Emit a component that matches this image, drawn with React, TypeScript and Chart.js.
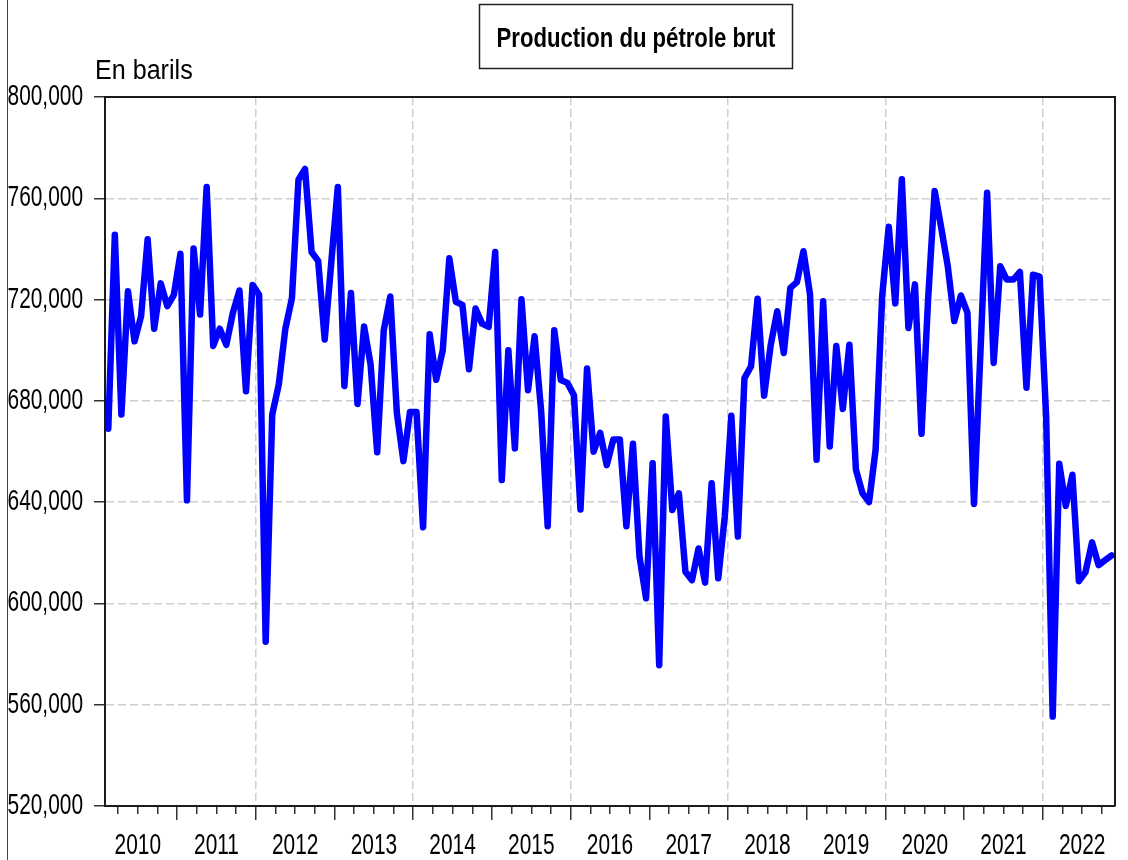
import React, { useEffect, useRef } from 'react';
import { Chart, registerables } from 'chart.js';

Chart.register(...registerables);

const TITLE = 'Production du pétrole brut';
const UNIT = 'En barils';

const firstYear = 2010;
const firstMonth = 2; // February 2010

// Monthly crude oil production (barrels)
const p2010 = [669000, 745600, 674600, 723300, 703500, 713400, 743800, 708500, 726400, 717400, 721900];
const p2011 = [738100, 640700, 740200, 714100, 764500, 701700, 708500, 702100, 714800, 723600, 683800, 725800];
const p2012 = [721900, 584900, 674600, 686500, 708500, 720500, 767300, 771600, 738800, 735300, 704200, 734600];
const p2013 = [764500, 685900, 722600, 678800, 709400, 694300, 659700, 707800, 721200, 675300, 656200, 675600];
const p2014 = [675600, 630100, 706300, 688300, 700000, 736300, 719100, 717900, 692500, 716500, 710500, 709200];
const p2015 = [738800, 648700, 700000, 661200, 720100, 684200, 705500, 676000, 630500, 707900, 688200, 687100];
const p2016 = [682200, 637100, 692800, 659900, 667400, 654600, 664700, 664700, 630500, 663100, 618400, 602000];
const p2017 = [655400, 575600, 673800, 636900, 643500, 612500, 609200, 621700, 608200, 647500, 609900, 634300];
const p2018 = [674100, 626400, 689000, 693600, 720300, 682000, 702000, 715400, 698900, 724600, 726900, 739100];
const p2019 = [722000, 656700, 719300, 662000, 701700, 676800, 702200, 652800, 643500, 640000, 660700, 721400];
const p2020 = [748800, 718500, 767500, 708800, 726000, 667000, 720000, 762900, 748400, 733200, 711500, 721600];
const p2021 = [714800, 639300, 700200, 762200, 695000, 733200, 727900, 727900, 730900, 685200, 729800, 729100];
const p2022 = [673900, 555300, 655200, 638500, 650800, 608800, 612400, 624100, 615100, 617100, 619000];

const production: number[] = [
  ...p2010, ...p2011, ...p2012, ...p2013, ...p2014, ...p2015, ...p2016,
  ...p2017, ...p2018, ...p2019, ...p2020, ...p2021, ...p2022,
];

const months: string[] = production.map((_, i) => {
  const m = firstMonth - 1 + i;
  return `${firstYear + Math.floor(m / 12)}-${String((m % 12) + 1).padStart(2, '0')}`;
});

const yearLabels = ['2010', '2011', '2012', '2013', '2014', '2015', '2016', '2017', '2018', '2019', '2020', '2021', '2022'];
const yTickValues = [520000, 560000, 600000, 640000, 680000, 720000, 760000, 800000];

const SANS = "'Liberation Sans', Arial, sans-serif";
const TICK_SQUEEZE = 0.72;

// month label -> position in months since Jan 2010 (middle of the month)
function monthPos(label: string): number {
  const [y, m] = label.split('-').map(Number);
  return (y - firstYear) * 12 + (m - 1) + 0.5;
}

const axisMin = monthPos(months[0]) - 0.5;
const axisMax = monthPos(months[months.length - 1]) + 0.5;

const quarterTicks: number[] = [];
for (let v = Math.ceil(axisMin / 3) * 3; v <= axisMax; v += 3) quarterTicks.push(v);

// draw text horizontally condensed around its anchor point (narrow-font look)
function squeezedFill(ctx: any, factor: number, fn: () => void) {
  const proto = Object.getPrototypeOf(ctx);
  const fill = proto.fillText;
  ctx.fillText = function (t: string, x: number, y: number, mw?: number) {
    this.save();
    this.translate(x, y);
    this.scale(factor, 1);
    if (mw === undefined) fill.call(this, t, 0, 0);
    else fill.call(this, t, 0, 0, mw / factor);
    this.restore();
  };
  try {
    fn();
  } finally {
    delete ctx.fillText;
  }
}

const narrowTicksPlugin = {
  id: 'narrowTicks',
  beforeDraw(chart: any) {
    Object.values(chart.scales).forEach((scale: any) => {
      if (scale.__squeezed) return;
      scale.__squeezed = true;
      const orig = scale.drawLabels;
      scale.drawLabels = function (area: any) {
        squeezedFill(this.ctx, TICK_SQUEEZE, () => orig.call(this, area));
      };
    });
  },
};

const decorPlugin = {
  id: 'decor',
  afterDraw(chart: any) {
    const { ctx, chartArea: a } = chart;
    ctx.save();
    ctx.strokeStyle = '#1a1a1a';
    ctx.lineWidth = 2;
    ctx.beginPath();
    ctx.moveTo(a.left, a.top);
    ctx.lineTo(a.right, a.top);
    ctx.lineTo(a.right, a.bottom);
    ctx.stroke();

    ctx.strokeStyle = '#444';
    ctx.lineWidth = 1;
    ctx.beginPath();
    ctx.moveTo(7.5, 0);
    ctx.lineTo(7.5, 860);
    ctx.stroke();

    ctx.strokeStyle = '#222';
    ctx.lineWidth = 1.5;
    ctx.strokeRect(479.5, 4.5, 313, 64);
    ctx.fillStyle = '#000';
    ctx.textBaseline = 'alphabetic';

    ctx.font = `bold 28px ${SANS}`;
    ctx.textAlign = 'center';
    squeezedFill(ctx, 0.79, () => ctx.fillText(TITLE, 636, 47));

    ctx.font = `27px ${SANS}`;
    ctx.textAlign = 'left';
    squeezedFill(ctx, 0.93, () => ctx.fillText(UNIT, 95, 79));
    ctx.restore();
  },
};

export default function App() {
  const ref = useRef<HTMLCanvasElement | null>(null);

  useEffect(() => {
    if (!ref.current) return;
    const chart = new Chart(ref.current, {
      type: 'line',
      data: {
        datasets: [
          {
            label: TITLE,
            data: production.map((v, i) => ({ x: monthPos(months[i]), y: v })),
            borderColor: '#0000ff',
            borderWidth: 6.5,
            pointRadius: 0,
            tension: 0,
            borderJoinStyle: 'round',
            borderCapStyle: 'round',
            fill: false,
          },
        ],
      },
      options: {
        responsive: false,
        animation: false,
        devicePixelRatio: 1,
        layout: { padding: { top: 97, right: 13, left: 0, bottom: 0 } },
        plugins: {
          legend: { display: false },
          tooltip: { enabled: false },
          title: { display: false },
        },
        scales: {
          x: {
            type: 'linear',
            min: axisMin,
            max: axisMax,
            afterBuildTicks: (scale: any) => {
              scale.ticks = quarterTicks.map((v) => ({ value: v }));
            },
            afterFit: (scale: any) => {
              scale.height = 54;
            },
            ticks: {
              autoSkip: false,
              maxRotation: 0,
              minRotation: 0,
              padding: 9,
              color: '#000',
              font: { family: SANS, size: 29 },
              callback: (v: any) => {
                const n = Number(v);
                return n % 12 === 6 ? yearLabels[(n - 6) / 12] : '';
              },
            },
            grid: {
              drawOnChartArea: true,
              color: (ctx: any) => {
                const v = ctx.tick ? ctx.tick.value : -1;
                return v % 24 === 0 ? '#cfcfcf' : 'rgba(0,0,0,0)';
              },
              lineWidth: 1.5,
              tickColor: '#333',
              tickWidth: 1.5,
              tickLength: 14,
              tickBorderDash: (ctx: any) => {
                const v = ctx.tick ? ctx.tick.value : 0;
                return v % 12 === 0 ? [] : [7, 40];
              },
            },
            border: { display: true, color: '#1a1a1a', width: 2, dash: [8, 4] },
          },
          y: {
            type: 'linear',
            min: yTickValues[0],
            max: yTickValues[yTickValues.length - 1],
            afterBuildTicks: (scale: any) => {
              scale.ticks = yTickValues.map((v) => ({ value: v }));
            },
            afterFit: (scale: any) => {
              scale.width = 105;
            },
            ticks: {
              padding: 11,
              color: '#000',
              font: { family: SANS, size: 29 },
              callback: (v: any) => Number(v).toLocaleString('en-US'),
            },
            grid: {
              color: '#cfcfcf',
              lineWidth: 1.5,
              tickColor: '#333',
              tickWidth: 1.5,
              tickLength: 11,
            },
            border: { display: true, color: '#1a1a1a', width: 2, dash: [8, 4] },
          },
        },
      },
      plugins: [narrowTicksPlugin, decorPlugin],
    } as any);
    return () => chart.destroy();
  }, []);

  return (
    <div style={{ position: 'absolute', left: 0, top: 0, width: 1128, height: 860, background: '#fff' }}>
      <canvas ref={ref} width={1128} height={860} style={{ display: 'block' }} />
    </div>
  );
}
